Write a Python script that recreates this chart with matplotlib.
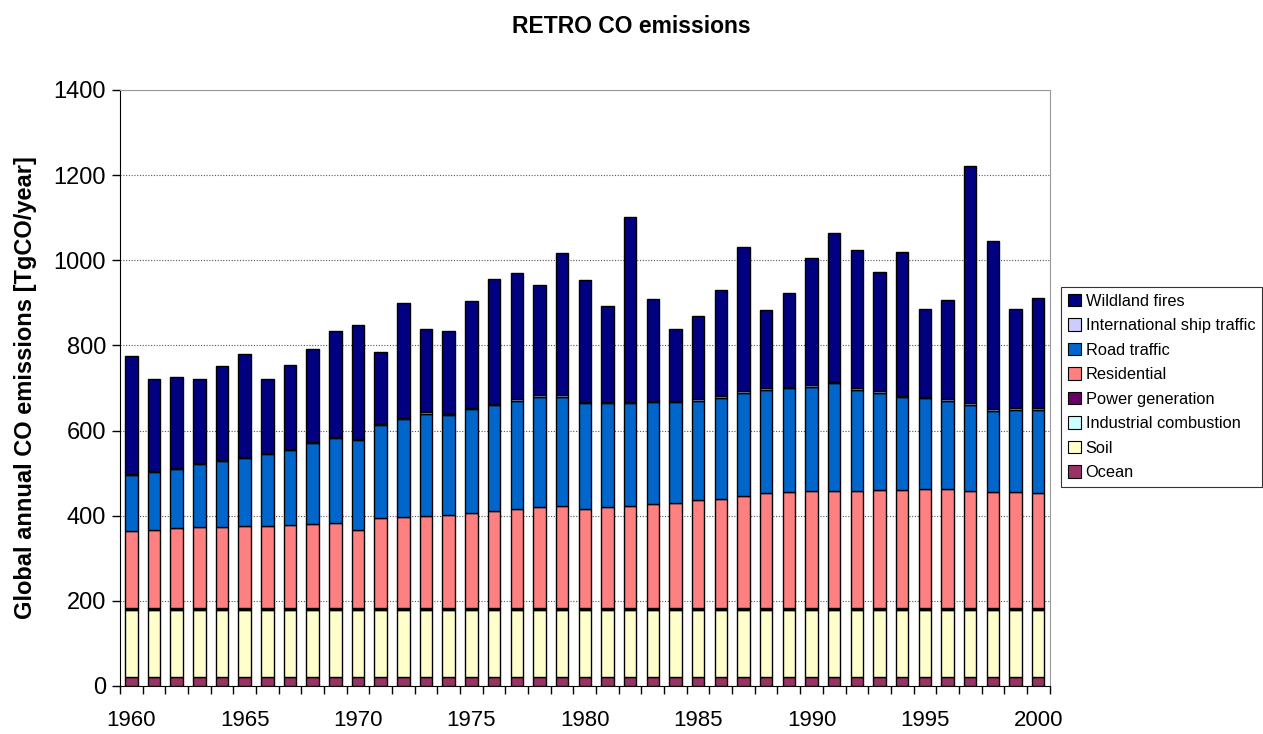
import matplotlib
matplotlib.use("Agg")
import matplotlib.pyplot as plt
from matplotlib.patches import Patch
import numpy as np

plt.rcParams["font.family"] = ["Liberation Sans", "DejaVu Sans"]

# ---- data (TgCO/year) ------------------------------------------------------
years = list(range(1960, 2001))

ocean = [20] * 41
soil = [158] * 41
industrial = [2] * 41
power = [4] * 41
residential = [180, 183, 186, 189, 189, 191, 191, 193, 196, 200,
               182, 210, 212, 216, 218, 223, 228, 232, 236, 239,
               232, 236, 239, 243, 247, 252, 256, 263, 270, 272,
               273, 275, 275, 277, 277, 279, 279, 275, 272, 272,
               269]
road = [132, 135, 140, 148, 155, 161, 171, 177, 190, 199,
        212, 218, 230, 240, 235, 243, 248, 254, 260, 257,
        248, 245, 242, 240, 236, 233, 237, 241, 241, 243,
        246, 252, 236, 227, 217, 213, 206, 201, 190, 192,
        195]
ship = [2, 2, 2, 2, 2, 2, 2, 2, 3, 3,
        3, 3, 3, 3, 3, 3, 3, 3, 3, 3,
        3, 3, 3, 3, 3, 4, 4, 4, 4, 4,
        4, 4, 4, 4, 4, 4, 5, 5, 5, 5,
        5]
wildland = [276, 218, 214, 197, 221, 241, 172, 197, 219, 249,
            266, 169, 270, 196, 193, 251, 294, 296, 258, 333,
            287, 225, 433, 239, 169, 195, 249, 340, 185, 220,
            298, 348, 324, 280, 338, 206, 233, 556, 394, 233,
            258]

series = [
    ("Ocean", ocean, "#993366"),
    ("Soil", soil, "#FFFFCC"),
    ("Industrial combustion", industrial, "#CCFFFF"),
    ("Power generation", power, "#660066"),
    ("Residential", residential, "#FF8080"),
    ("Road traffic", road, "#0066CC"),
    ("International ship traffic", ship, "#CCCCFF"),
    ("Wildland fires", wildland, "#000080"),
]

# ---- figure -----------------------------------------------------------------
fig = plt.figure(figsize=(12.63, 7.34), dpi=100)
ax = fig.add_axes([0.095, 0.0654, 0.736, 0.812])

x = np.arange(len(years))
bottom = np.zeros(len(years))
for name, vals, col in series:
    ax.bar(x, vals, width=0.55, bottom=bottom, color=col,
           edgecolor="black", linewidth=1.0, zorder=3)
    bottom += np.array(vals)

ax.set_xlim(-0.5, len(years) - 0.5)
ax.set_ylim(0, 1400)
ax.set_yticks(range(0, 1401, 200))
ax.tick_params(axis="y", labelsize=17, length=6, width=1, pad=4)
ax.grid(axis="y", color="#555555", linestyle=(0, (1, 1.5)), linewidth=0.8, zorder=0)

lab_idx = [i for i, y in enumerate(years) if y % 5 == 0]
ax.set_xticks(lab_idx)
ax.set_xticklabels([str(years[i]) for i in lab_idx])
ax.set_xticks(np.arange(-0.5, len(years)), minor=True)
ax.tick_params(axis="x", which="major", length=0, labelsize=16, pad=17)
ax.tick_params(axis="x", which="minor", length=6, width=1)

for s in ["top", "right"]:
    ax.spines[s].set_color("#999999")
ax.spines["left"].set_color("black")
ax.spines["bottom"].set_color("black")

ax.set_ylabel("Global annual CO emissions [TgCO/year]", fontsize=17,
              fontweight="bold", labelpad=12)
fig.suptitle("RETRO CO emissions", fontsize=16.5, fontweight="bold", y=0.98)

handles = [Patch(facecolor=c, edgecolor="black", linewidth=0.8, label=n)
           for n, _, c in series[::-1]]
leg = fig.legend(handles=handles, loc="center right",
                 bbox_to_anchor=(0.999, 0.473), fontsize=11.8,
                 frameon=True, fancybox=False, edgecolor="black",
                 handlelength=0.8, handleheight=0.8, handletextpad=0.3,
                 labelspacing=0.58, borderpad=0.4, borderaxespad=0)
leg.get_frame().set_linewidth(0.8)

fig.savefig("out.png", dpi=100)
